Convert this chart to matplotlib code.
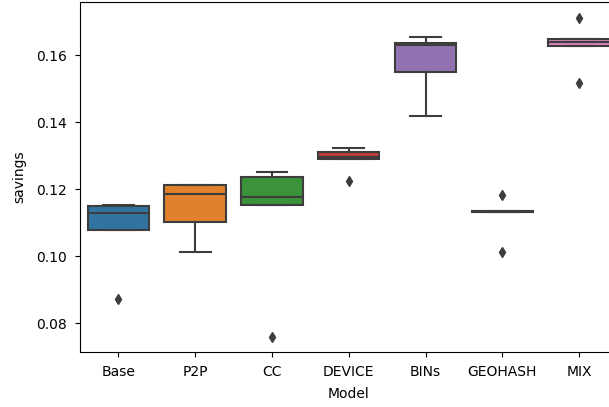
import matplotlib
matplotlib.use("Agg")
import matplotlib.pyplot as plt

# valeurs (quartiles, moustaches, points isolés)
modeles = ["Base", "P2P", "CC", "DEVICE", "BINs", "GEOHASH", "MIX"]
q1 = [0.1078, 0.1102, 0.1153, 0.1289, 0.1548, 0.1132, 0.1628]
mediane = [0.1128, 0.1186, 0.1176, 0.1297, 0.1630, 0.1133, 0.1639]
q3 = [0.1150, 0.1214, 0.1237, 0.1312, 0.1637, 0.1134, 0.1648]
moustache_bas = [0.1078, 0.1014, 0.1153, 0.1289, 0.1419, 0.1132, 0.1628]
moustache_haut = [0.1153, 0.1214, 0.1252, 0.1322, 0.1653, 0.1134, 0.1648]
aberrants = [[0.0872], [], [0.0760], [0.1225], [], [0.1183, 0.1014], [0.1709, 0.1516]]

couleurs = ["#3274a1", "#e1812c", "#3a923a", "#c03d3e", "#9372b2", "#845b53", "#d684bd"]
gris = "#3d3d3d"

plt.rcParams['xtick.major.pad'] = 5.5
plt.rcParams['ytick.major.pad'] = 5.8

stats = []
for i, nom in enumerate(modeles):
    stats.append({
        "label": nom,
        "q1": q1[i],
        "med": mediane[i],
        "q3": q3[i],
        "whislo": moustache_bas[i],
        "whishi": moustache_haut[i],
        "fliers": aberrants[i],
    })

fig = plt.figure(figsize=(6.09, 4.07), dpi=100)
# l'axe dépasse à droite, comme dans l'image d'origine (rognée)
ax = fig.add_axes([80 / 609, 1 - 352.3 / 407, 537.5 / 609, 350.3 / 407])

bp = ax.bxp(
    stats,
    positions=range(len(modeles)),
    widths=0.8,
    patch_artist=True,
    showfliers=True,
    boxprops=dict(edgecolor=gris, linewidth=1.5),
    medianprops=dict(color=gris, linewidth=1.5),
    whiskerprops=dict(color=gris, linewidth=1.5),
    capprops=dict(color=gris, linewidth=1.5),
    flierprops=dict(marker="d", markersize=5, markerfacecolor=gris,
                    markeredgecolor=gris, linestyle="none"),
    capwidths=0.4,
)
for boite, c in zip(bp["boxes"], couleurs):
    boite.set_facecolor(c)

ax.set_xlim(-0.5, len(modeles) - 0.5)
ax.set_ylim(0.0714, 0.1758)
ax.set_yticks([0.08, 0.10, 0.12, 0.14, 0.16])
ax.set_xticks(range(len(modeles)))
ax.set_xticklabels(modeles)
ax.set_xlabel("Model", labelpad=6)
ax.set_ylabel("savings", labelpad=7)

plt.savefig("out.png", dpi=100)
